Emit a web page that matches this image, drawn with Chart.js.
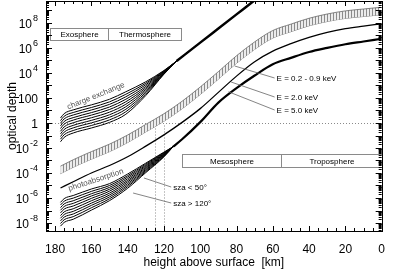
<!DOCTYPE html>
<html>
<head>
<meta charset="utf-8">
<script src="https://cdn.jsdelivr.net/npm/chart.js@4"></script>
<style>
  html, body { margin: 0; padding: 0; background: #fff; }
  #wrap { width: 396px; height: 271px; }
</style>
</head>
<body>
<div id="wrap"><canvas id="chart"></canvas></div>
<script>
// heights in km, values are log10(optical depth)

// charge exchange, one curve per row (top -> bottom)
const ceHeights = [177, 175, 170, 160, 150, 141, 130, 120, 113];
const chargeExchange = [
  [0.40, 0.75, 1.05, 1.45, 1.90, 2.50, 3.30, 4.20, 4.96],
  [0.19, 0.54, 0.84, 1.24, 1.69, 2.30, 3.18, 4.17, 4.96],
  [-0.02, 0.33, 0.64, 1.04, 1.49, 2.10, 3.06, 4.13, 4.96],
  [-0.23, 0.12, 0.43, 0.83, 1.28, 1.90, 2.93, 4.10, 4.96],
  [-0.44, -0.09, 0.23, 0.63, 1.08, 1.70, 2.81, 4.07, 4.96],
  [-0.66, -0.31, 0.02, 0.42, 0.87, 1.50, 2.69, 4.03, 4.96],
  [-0.87, -0.52, -0.19, 0.21, 0.66, 1.30, 2.57, 4.00, 4.96],
  [-1.08, -0.73, -0.39, 0.01, 0.46, 1.10, 2.44, 3.97, 4.96],
  [-1.29, -0.94, -0.60, -0.20, 0.25, 0.90, 2.32, 3.93, 4.96],
  [-1.50, -1.15, -0.80, -0.40, 0.05, 0.70, 2.20, 3.90, 4.96]
];
const ceMergedHeights = [113, 100, 90, 80, 70, 65];
const ceMerged = [4.96, 6.43, 7.56, 8.69, 9.82, 10.4];

// X-ray absorption
const xrHeights = [177, 170, 160, 150, 140, 130, 120, 110, 100, 90, 80, 70, 60, 50, 40, 30, 20, 10, 1];
const softUpper = [-3.45, -2.94, -2.29, -1.69, -0.96, -0.11, 0.74, 1.74, 2.88, 4.11, 5.38, 6.49, 7.40, 7.91, 8.38, 8.72, 8.97, 9.12, 9.25];
const softLower = [-4.05, -3.54, -2.89, -2.29, -1.56, -0.71, 0.14, 1.14, 2.28, 3.51, 4.78, 5.89, 6.80, 7.31, 7.78, 8.12, 8.37, 8.52, 8.65];
const e2keV = [-5.20, -4.70, -4.00, -3.40, -2.70, -1.85, -0.95, 0.05, 1.15, 2.45, 3.75, 4.90, 5.75, 6.35, 6.85, 7.25, 7.55, 7.75, 7.92];

// photoabsorption for solar zenith angles (top -> bottom), merging into E = 5 keV
const paHeights = [177, 175, 170, 160, 150, 140, 130, 120, 115];
const photoabsorption = [
  [-6.35, -6.05, -5.80, -5.28, -4.85, -4.08, -3.21, -2.33, -1.90],
  [-6.56, -6.26, -6.01, -5.47, -5.00, -4.21, -3.29, -2.37, -1.90],
  [-6.77, -6.47, -6.22, -5.66, -5.15, -4.33, -3.38, -2.41, -1.90],
  [-6.98, -6.68, -6.43, -5.84, -5.30, -4.46, -3.46, -2.46, -1.90],
  [-7.19, -6.89, -6.64, -6.03, -5.45, -4.59, -3.55, -2.50, -1.90],
  [-7.41, -7.11, -6.86, -6.22, -5.61, -4.71, -3.63, -2.54, -1.90],
  [-7.62, -7.32, -7.07, -6.41, -5.76, -4.84, -3.72, -2.58, -1.90],
  [-7.83, -7.53, -7.28, -6.59, -5.91, -4.97, -3.80, -2.63, -1.90],
  [-8.04, -7.74, -7.49, -6.78, -6.06, -5.09, -3.89, -2.67, -1.90],
  [-8.25, -7.95, -7.70, -6.97, -6.21, -5.22, -3.97, -2.71, -1.90]
];
const e5Heights = [115, 110, 100, 90, 80, 70, 60, 50, 40, 30, 20, 10, 1];
const e5keV = [-1.90, -1.30, 0.07, 1.63, 2.79, 3.80, 4.70, 5.21, 5.68, 6.01, 6.30, 6.52, 6.72];

const xTickValues = [180, 160, 140, 120, 100, 80, 60, 40, 20, 0];
const yTickExps = [8, 6, 4, 2, 0, -2, -4, -6, -8];

const FONT = 'Liberation Sans, Arial, Helvetica, sans-serif';
Chart.defaults.font.family = FONT;
Chart.defaults.color = '#000';

function pts(hs, logs) {
  return hs.map((h, i) => ({ x: h, y: Math.pow(10, logs[i]) }));
}

function hatch() {
  const c = document.createElement('canvas');
  c.width = 3; c.height = 3;
  const g = c.getContext('2d');
  g.fillStyle = '#ececec';
  g.fillRect(0, 0, 3, 3);
  g.fillStyle = '#8c8c8c';
  g.fillRect(0, 0, 1, 3);
  return g.createPattern(c, 'repeat');
}

const datasets = [];
chargeExchange.forEach(c => datasets.push({ data: pts(ceHeights, c), borderWidth: 1 }));
datasets.push({ data: pts(ceMergedHeights, ceMerged), borderWidth: 2.5 });
datasets.push({ data: pts(xrHeights, softUpper), borderWidth: 0.8, borderColor: '#666',
  fill: '+1', backgroundColor: hatch() });
datasets.push({ data: pts(xrHeights, softLower), borderWidth: 0.8, borderColor: '#666' });
datasets.push({ data: pts(xrHeights, e2keV), borderWidth: 1.3 });
photoabsorption.forEach(c => datasets.push({ data: pts(paHeights, c), borderWidth: 1 }));
datasets.push({ data: pts(e5Heights, e5keV), borderWidth: 2.2 });

// annotation layout, in data units (height km, log10 value)
const zoneRows = [
  { top: 7.6, bottom: 6.64, cells: [['Exosphere', 183, 150.6], ['Thermosphere', 150.6, 110.6]] },
  { top: -2.48, bottom: -3.52, cells: [['Mesosphere', 110, 55.6], ['Troposphere', 55.6, 0]] }
];
const leaders = [
  { text: 'E = 0.2 - 0.9 keV', from: [81, 4.56], to: [59, 3.6] },
  { text: 'E = 2.0 keV', from: [83, 3.28], to: [59, 2.08] },
  { text: 'E = 5.0 keV', from: [84.4, 2.5], to: [59, 1.04] },
  { text: 'sza < 50\u00b0', from: [131, -4.4], to: [116, -5.12] },
  { text: 'sza > 120\u00b0', from: [137, -5.6], to: [116, -6.4] }
];
const curveLabels = [
  { text: 'charge exchange', at: [157.5, 2.16], angle: -22 },
  { text: 'photoabsorption', at: [157.5, -4.56], angle: -18 }
];
const refHeights = [125, 120];

const decorations = {
  id: 'decorations',
  beforeDatasetsDraw(chart) {
    const { ctx, chartArea: a, scales: { x, y } } = chart;
    ctx.save();
    ctx.strokeStyle = '#8a8a8a';
    ctx.lineWidth = 1;
    ctx.setLineDash([1, 2]);
    const y1 = Math.round(y.getPixelForValue(1)) + 0.5;
    ctx.beginPath();
    ctx.moveTo(a.left, y1); ctx.lineTo(a.right, y1);
    refHeights.forEach(h => {
      const px = Math.round(x.getPixelForValue(h)) + 0.5;
      ctx.moveTo(px, y1 + 2); ctx.lineTo(px, a.bottom);
    });
    ctx.stroke();
    ctx.restore();
  },
  afterDatasetsDraw(chart) {
    const { ctx, scales: { x, y } } = chart;
    const P = (h, l) => [x.getPixelForValue(h), y.getPixelForValue(Math.pow(10, l))];
    ctx.save();
    ctx.font = '8px ' + FONT;
    ctx.textBaseline = 'middle';
    // zone boxes
    zoneRows.forEach(r => {
      const t = Math.round(P(0, r.top)[1]) + 0.5, b = Math.round(P(0, r.bottom)[1]) + 0.5;
      r.cells.forEach(([txt, h0, h1]) => {
        const l = Math.round(P(h0, 0)[0]) + 0.5, rr = Math.round(P(h1, 0)[0]) + 0.5;
        ctx.fillStyle = '#fff';
        ctx.fillRect(l, t, rr - l, b - t);
        ctx.strokeStyle = '#8a8a8a';
        ctx.lineWidth = 1;
        ctx.strokeRect(l, t, rr - l, b - t);
        ctx.fillStyle = '#000';
        ctx.textAlign = 'center';
        ctx.fillText(txt, (l + rr) / 2, (t + b) / 2 + 0.5);
      });
    });
    // leader lines with labels
    leaders.forEach(d => {
      const [x0, y0] = P(d.from[0], d.from[1]);
      const [x1, y1] = P(d.to[0], d.to[1]);
      ctx.strokeStyle = '#666';
      ctx.lineWidth = 0.8;
      ctx.beginPath();
      ctx.moveTo(x0, y0); ctx.lineTo(x1, y1);
      ctx.stroke();
      ctx.fillStyle = '#000';
      ctx.textAlign = 'left';
      ctx.fillText(d.text, x1 + 2, y1 + 0.5);
    });
    // labels along the curves
    curveLabels.forEach(c => {
      const [cx, cy] = P(c.at[0], c.at[1]);
      ctx.save();
      ctx.translate(cx, cy);
      ctx.rotate(c.angle * Math.PI / 180);
      ctx.fillStyle = '#555';
      ctx.textAlign = 'center';
      ctx.fillText(c.text, 0, 0);
      ctx.restore();
    });
    ctx.restore();
  },
  afterDraw(chart) {
    const { ctx, chartArea: a, scales: { x, y } } = chart;
    ctx.save();
    ctx.strokeStyle = '#000';
    ctx.lineWidth = 1;
    ctx.beginPath();
    // log ticks on left and right
    for (let e = -9; e <= 9; e++) {
      for (let m = 1; m <= 9; m++) {
        const v = m * Math.pow(10, e);
        if (v < y.min || v > y.max) continue;
        const py = Math.round(y.getPixelForValue(v)) + 0.5;
        const len = m === 1 ? 6 : 3;
        ctx.moveTo(a.left, py); ctx.lineTo(a.left + len, py);
        ctx.moveTo(a.right, py); ctx.lineTo(a.right - len, py);
      }
    }
    // height ticks on bottom and top
    for (let h = 0; h <= x.max; h += 5) {
      const px = Math.round(x.getPixelForValue(h)) + 0.5;
      const len = h % 20 === 0 ? 5 : 3;
      ctx.moveTo(px, a.bottom); ctx.lineTo(px, a.bottom - len);
      ctx.moveTo(px, a.top); ctx.lineTo(px, a.top + len);
    }
    ctx.stroke();
    ctx.strokeRect(Math.round(a.left) + 0.5, Math.round(a.top) + 0.5,
      Math.round(a.right - a.left), Math.round(a.bottom - a.top));
    // y tick labels with exponents
    ctx.fillStyle = '#000';
    ctx.textBaseline = 'alphabetic';
    ctx.textAlign = 'left';
    yTickExps.forEach(e => {
      const py = y.getPixelForValue(Math.pow(10, e));
      const base = e === 0 ? '1' : e === 2 ? '100' : '10';
      const sup = (e === 0 || e === 2) ? '' : String(e);
      ctx.font = '12px ' + FONT;
      const wb = ctx.measureText(base).width;
      ctx.font = '9px ' + FONT;
      const ws = sup ? ctx.measureText(sup).width + 1 : 0;
      const x0 = a.left - 8 - wb - ws;
      ctx.font = '12px ' + FONT;
      ctx.fillText(base, x0, py + 4.5);
      if (sup) {
        ctx.font = '9px ' + FONT;
        ctx.fillText(sup, x0 + wb + 1, py - 2);
      }
    });
    ctx.restore();
  }
};

new Chart(document.getElementById('chart'), {
  type: 'line',
  data: { datasets },
  options: {
    responsive: true,
    maintainAspectRatio: false,
    animation: false,
    layout: { padding: { top: 1, right: 3, left: 0, bottom: 0 } },
    datasets: {
      line: {
        borderColor: '#000',
        pointRadius: 0,
        fill: false,
        tension: 0.4,
        cubicInterpolationMode: 'monotone'
      }
    },
    plugins: {
      legend: { display: false },
      tooltip: { enabled: false }
    },
    scales: {
      x: {
        type: 'linear',
        reverse: true,
        min: 0,
        max: 185,
        afterBuildTicks: s => { s.ticks = xTickValues.map(v => ({ value: v })); },
        afterFit: s => { s.height = 40; },
        grid: { display: false, drawTicks: false },
        border: { display: false },
        ticks: { font: { size: 12 }, padding: 11, maxRotation: 0, autoSkip: false },
        title: { display: true, text: 'height above surface  [km]', font: { size: 12 }, padding: { top: 0, bottom: 1 } }
      },
      y: {
        type: 'logarithmic',
        min: Math.pow(10, -8.64),
        max: Math.pow(10, 9.76),
        afterFit: s => { s.width = 46; },
        grid: { display: false, drawTicks: false },
        border: { display: false },
        ticks: { display: false },
        title: { display: true, text: 'optical depth', font: { size: 12 }, padding: { top: 5, bottom: 0 } }
      }
    }
  },
  plugins: [decorations]
});
</script>
</body>
</html>
